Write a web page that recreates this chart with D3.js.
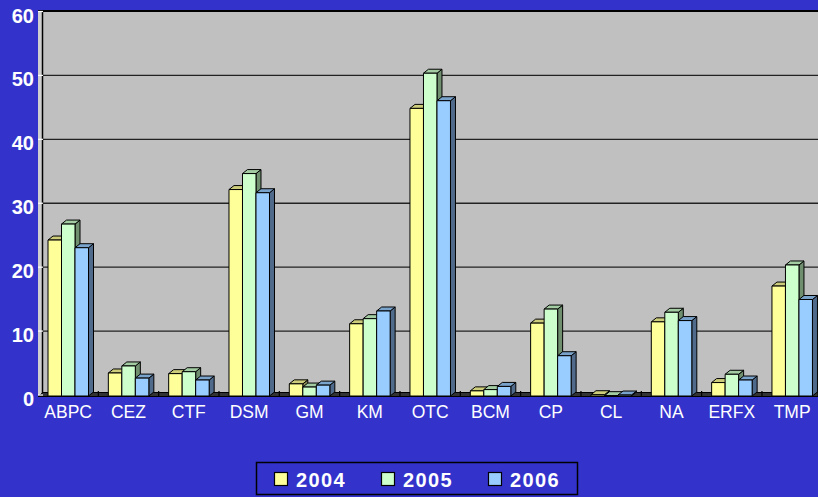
<!DOCTYPE html>
<html>
<head>
<meta charset="utf-8">
<script src="https://cdn.jsdelivr.net/npm/d3@7"></script>
<style>
  body { margin:0; background:#3333cc; }
  svg { display:block; }
</style>
</head>
<body>
<svg></svg>
<script>
var screen = {width:818,height:497}

// data
var categories = ["ABPC","CEZ","CTF","DSM","GM","KM","OTC","BCM","CP","CL","NA","ERFX","TMP"]
var years = ["2004","2005","2006"]
var values2004 = [24.4,3.6,3.5,32.3,1.9,11.3,45.0,0.8,11.4,0.2,11.6,2.1,17.2]
var values2005 = [26.9,4.7,3.8,34.8,1.4,12.1,50.5,1.0,13.6,0.05,13.1,3.4,20.5]
var values2006 = [23.2,2.8,2.5,31.8,1.7,13.3,46.2,1.5,6.3,0.15,11.8,2.5,15.1]
var yTicks = [0,10,20,30,40,50,60]

var front = ["#ffff99","#ccffcc","#99ccff"]
var topFace = ["#cccc7a","#a3cca3","#7aa3cc"]
var sideFace = ["#8f8f5c","#6f8f6f","#4f6a8a"]

var depth = {dx:5, dy:-4}

var svg = d3.select("svg")
            .attr("width",screen.width)
            .attr("height",screen.height)

svg.append("rect")
   .attr("width",screen.width)
   .attr("height",screen.height)
   .attr("fill","#3333cc")

var yScale = d3.scaleLinear()
               .domain([0,60])
               .range([395,11.5])

var xScale = d3.scaleBand()
               .domain(categories)
               .range([38,38+13*60.33])

var seriesScale = d3.scaleBand()
                    .domain(years)
                    .range([10,50.5])

// plot area and walls
svg.append("rect")
   .attr("x",38).attr("y",11)
   .attr("width",screen.width-38).attr("height",395-11)
   .attr("fill","#c0c0c0")

svg.append("rect")
   .attr("x",38).attr("y",11)
   .attr("width",4).attr("height",384)
   .attr("fill","#cfcfcf")

svg.append("line")
   .attr("x1",38).attr("x2",screen.width)
   .attr("y1",11).attr("y2",11)
   .attr("stroke","black").attr("stroke-width",2)

svg.append("line")
   .attr("x1",42.5).attr("x2",42.5)
   .attr("y1",11).attr("y2",394)
   .attr("stroke","black").attr("stroke-width",1.5)

// gridlines
svg.append("g")
   .selectAll("line")
   .data(yTicks.filter(function(t){return t>0 && t<60}))
   .enter()
   .append("line")
   .attr("x1",43).attr("x2",screen.width)
   .attr("y1",function(t){return yScale(t)})
   .attr("y2",function(t){return yScale(t)})
   .attr("stroke","#222").attr("stroke-width",1.4)

// floor
svg.append("polygon")
   .attr("points",[[38,396.5],[screen.width,396.5],[screen.width,392.5],[43,392.5]].join(" "))
   .attr("fill","#333").attr("stroke","black").attr("stroke-width",1)

svg.append("g")
   .selectAll("line")
   .data(categories.slice(1))
   .enter()
   .append("line")
   .attr("x1",function(c){return xScale(c)})
   .attr("x2",function(c){return xScale(c)})
   .attr("y1",391).attr("y2",397)
   .attr("stroke","black").attr("stroke-width",1.2)

// y axis
var yAxis = svg.append("g").attr("class","yAxis")
yAxis.selectAll("line")
     .data(yTicks)
     .enter()
     .append("line")
     .attr("x1",38).attr("x2",43)
     .attr("y1",function(t){return yScale(t)})
     .attr("y2",function(t){return yScale(t)})
     .attr("stroke","white").attr("stroke-width",1.2)
yAxis.selectAll("text")
     .data(yTicks)
     .enter()
     .append("text")
     .attr("x",34)
     .attr("y",function(t){return yScale(t)+11})
     .attr("text-anchor","end")
     .attr("fill","white")
     .attr("font-family","Liberation Sans, Arial, sans-serif")
     .attr("font-weight","bold")
     .attr("font-size","20px")
     .text(function(t){return t})

// x labels
svg.append("g")
   .selectAll("text")
   .data(categories)
   .enter()
   .append("text")
   .attr("x",function(c){return xScale(c)+xScale.bandwidth()/2})
   .attr("y",418)
   .attr("text-anchor","middle")
   .attr("fill","white")
   .attr("font-family","Liberation Sans, Arial, sans-serif")
   .attr("font-size","17.5px")
   .text(function(c){return c})

// bars
var seriesList = [values2004,values2005,values2006]
var barData = []
categories.forEach(function(c,i)
{
    seriesList.forEach(function(vals,s)
    {
        barData.push({cat:c, year:years[s], s:s, value:vals[i]})
    })
})

var bars = svg.append("g")
              .selectAll("g")
              .data(barData)
              .enter()
              .append("g")
              .attr("stroke","black")
              .attr("stroke-width",1)
              .attr("stroke-linejoin","round")

var bx = function(d){return xScale(d.cat)+seriesScale(d.year)}
var bw = seriesScale.bandwidth()
var base = yScale(0)+1

bars.append("polygon")
    .attr("fill",function(d){return sideFace[d.s]})
    .attr("points",function(d)
    {
        var x = bx(d)+bw, t = yScale(d.value)+1
        return [[x,base],[x+depth.dx,base+depth.dy],[x+depth.dx,t+depth.dy],[x,t]].join(" ")
    })

bars.append("polygon")
    .attr("fill",function(d){return topFace[d.s]})
    .attr("points",function(d)
    {
        var x = bx(d), t = yScale(d.value)+1
        return [[x,t],[x+depth.dx,t+depth.dy],[x+bw+depth.dx,t+depth.dy],[x+bw,t]].join(" ")
    })

bars.append("rect")
    .attr("fill",function(d){return front[d.s]})
    .attr("x",bx)
    .attr("y",function(d){return yScale(d.value)+1})
    .attr("width",bw)
    .attr("height",function(d){return base-(yScale(d.value)+1)})

// legend
var legend = svg.append("g")
legend.append("rect")
      .attr("x",256.5).attr("y",462.5)
      .attr("width",321).attr("height",32)
      .attr("fill","#3333cc")
      .attr("stroke","black").attr("stroke-width",1.5)

var items = legend.selectAll("g")
                  .data(years)
                  .enter()
                  .append("g")
                  .attr("transform",function(y,i){return "translate("+(274.5+i*107)+",0)"})
items.append("rect")
     .attr("x",0).attr("y",472.5)
     .attr("width",13).attr("height",13)
     .attr("fill",function(y,i){return front[i]})
     .attr("stroke","black").attr("stroke-width",1.2)
items.append("text")
     .attr("x",21.5).attr("y",487)
     .attr("fill","white")
     .attr("font-family","Liberation Sans, Arial, sans-serif")
     .attr("font-weight","bold")
     .attr("font-size","20px")
     .attr("letter-spacing","1.4px")
     .text(function(y){return y})
</script>
</body>
</html>
